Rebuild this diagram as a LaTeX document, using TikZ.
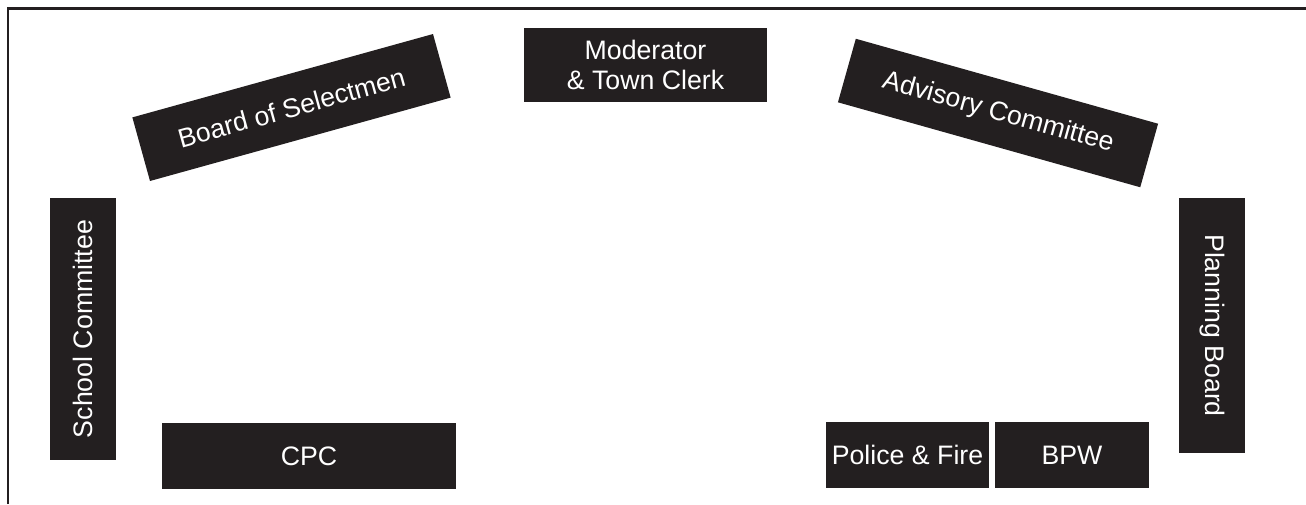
\documentclass[tikz,border=0pt]{standalone}
\usepackage{fontspec}
\setmainfont{Liberation Sans}
\definecolor{seatblack}{RGB}{35,31,32}

\begin{document}
\begin{tikzpicture}[
    seat/.style={rectangle, fill=seatblack, text=white, inner sep=0pt, align=center,
        font=\fontsize{7.6}{8.5}\selectfont, minimum height=0.66cm},
    wall/.style={draw=seatblack, line width=0.7pt}
]
\useasboundingbox (0,0) rectangle (13.06,5.04);

% Hall edges
\draw[wall] (0.08,0) -- (0.08,4.955) -- (13.06,4.955);

% Front seats
\node[seat, minimum width=2.43cm, minimum height=0.74cm] (moderator) at (6.455,4.39) {Moderator\\\& Town Clerk};
\node[seat, minimum width=3.12cm, rotate=15.5] (selectmen) at (2.915,3.965) {Board of Selectmen};
\node[seat, minimum width=3.14cm, rotate=-15.7] (advisory) at (9.98,3.91) {Advisory Committee};

% Side seats
\node[seat, minimum width=2.62cm, rotate=90] (school) at (0.83,1.75) {School Committee};
\node[seat, minimum width=2.55cm, rotate=-90] (planning) at (12.12,1.785) {Planning Board};

% Back seats
\node[seat, minimum width=2.94cm] (cpc) at (3.09,0.48) {CPC};
\node[seat, minimum width=1.63cm] (police) at (9.075,0.49) {Police \& Fire};
\node[seat, minimum width=1.54cm] (bpw) at (10.72,0.49) {BPW};

\end{tikzpicture}
\end{document}
